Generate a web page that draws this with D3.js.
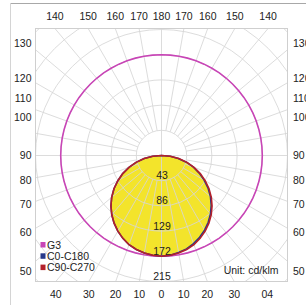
<!DOCTYPE html>
<html><head><meta charset="utf-8">
<script src="https://cdn.jsdelivr.net/npm/d3@7"></script>
<style>
body{margin:0;background:#fff}
svg{display:block}
text{font-family:"Liberation Sans",Arial,sans-serif;font-size:10.5px;fill:#222}
</style>
</head><body>
<svg id="c" width="306" height="305"></svg>
<script>
// ---- data ----
const angles = [0,5,10,15,20,25,30,35,40,45,50,55,60,65,70,75,80,85,90,95,100,105,110,115,120,125,130,135,140,145,150,155,160,165,170,175,180];
const g3   = [172,172,172,172,172,172,172,172,172,172,172,172,172,172,172,172,172,172,172,172,172,172,172,172,172,172,172,172,172,172,172,172,172,172,172,172,172];
const c0   = [172,171,168,165,160,154,147,139,130,120,109,97,84,71,58,44,29,15,0,0,0,0,0,0,0,0,0,0,0,0,0,0,0,0,0,0,0];
const c180 = [172,171,169,166,162,156,149,141,132,122,111,99,86,73,59,45,30,15,0,0,0,0,0,0,0,0,0,0,0,0,0,0,0,0,0,0,0];
const c90  = [172,171,169,166,162,156,149,141,132,122,111,99,86,73,59,45,30,15,0,0,0,0,0,0,0,0,0,0,0,0,0,0,0,0,0,0,0];
const c270 = [172,171,169,166,162,156,149,141,132,122,111,99,86,73,59,45,30,15,0,0,0,0,0,0,0,0,0,0,0,0,0,0,0,0,0,0,0];
const ringValues = [43,86,129,172,215];
const gridRings = [43,86,129,172,215,258,301];
const topLabels = ["140","150","160","170","180","170","160","150","140"];
const topDev = [-40,-30,-20,-10,0,10,20,30,40];
const bottomLabels = ["40","30","20","10","0","10","20","30","04"];
const bottomDev = [-40,-30,-20,-10,0,10,20,30,40];
const sideLabels = ["130","120","110","100","90","80","70","60","50"];
const seriesNames = ["G3","C0-C180","C90-C270"];
const seriesColors = ["#c845b6","#27388a","#b4202a"];
const unitText = "Unit: cd/klm";

// ---- layout ----
const cx = 161.5, cy = 155.5;
const box = {x0:35.5, y0:28.5, x1:287.5, y1:281.5};
const sideLabelY = [43,78,98,117,155,180,204,232,271];
const r = d3.scaleLinear().domain([0,215]).range([0,126]);
const rad = d => d*Math.PI/180;

const svg = d3.select("#c");

// outer frame
svg.append("line").attr("x1",10.5).attr("y1",3.5).attr("x2",306).attr("y2",3.5).attr("stroke","#a8a8a8");
svg.append("line").attr("x1",10.5).attr("y1",3.5).attr("x2",10.5).attr("y2",305).attr("stroke","#d4d4d4");

svg.append("clipPath").attr("id","clip").append("rect")
  .attr("x",box.x0).attr("y",box.y0).attr("width",box.x1-box.x0).attr("height",box.y1-box.y0);

const plot = svg.append("g").attr("clip-path","url(#clip)");
const g = plot.append("g").attr("transform",`translate(${cx},${cy})`);

function shape(rightVals, leftVals){
  const p=[];
  for(let i=angles.length-1;i>=0;i--) p.push([Math.PI - rad(angles[i]), r(rightVals[i])]);
  for(let i=1;i<angles.length-1;i++) p.push([Math.PI + rad(angles[i]), r(leftVals[i])]);
  return p;
}
const line = d3.lineRadial().angle(d=>d[0]).radius(d=>d[1]).curve(d3.curveLinearClosed);

// yellow fill
g.append("path").attr("d", line(shape(c90,c270))).attr("fill","#f3e42b").attr("stroke","none");

// grid
const grid = g.append("g").attr("stroke","#d6d6d6").attr("stroke-opacity",0.85).attr("fill","none");
grid.selectAll("circle").data(gridRings).join("circle").attr("r",d=>r(d));
const spokes = d3.range(0,360,10);
grid.selectAll("line").data(spokes).join("line")
  .attr("x1",d=> (d%90===0?0:r(43))*Math.sin(rad(d)))
  .attr("y1",d=> -(d%90===0?0:r(43))*Math.cos(rad(d)))
  .attr("x2",d=> 400*Math.sin(rad(d)))
  .attr("y2",d=> -400*Math.cos(rad(d)));

// curves
g.append("path").attr("d", line(shape(g3,g3))).attr("fill","none").attr("stroke",seriesColors[0]).attr("stroke-width",1.6);
g.append("path").attr("d", line(shape(c0,c180))).attr("fill","none").attr("stroke",seriesColors[1]).attr("stroke-width",1.6);
g.append("path").attr("d", line(shape(c90,c270))).attr("fill","none").attr("stroke",seriesColors[2]).attr("stroke-width",1.6);

// inner box
svg.append("rect").attr("x",box.x0).attr("y",box.y0).attr("width",box.x1-box.x0).attr("height",box.y1-box.y0)
  .attr("fill","none").attr("stroke","#cfcfcf");

// ring value labels
svg.selectAll("text.ring").data(ringValues).join("text").attr("class","ring")
  .attr("x",cx+0.5).attr("y",d=>cy + r(d) - 1.5).attr("text-anchor","middle").text(d=>d);

// top labels
svg.selectAll("text.top").data(topLabels).join("text").attr("class","top")
  .attr("x",(d,i)=>cx + (cy-box.y0)*Math.tan(rad(topDev[i]))).attr("y",20).attr("text-anchor","middle").text(d=>d);
// bottom labels
svg.selectAll("text.bot").data(bottomLabels).join("text").attr("class","bot")
  .attr("x",(d,i)=>cx + (box.y1-cy)*Math.tan(rad(bottomDev[i]))).attr("y",298).attr("text-anchor","middle").text(d=>d);
// side labels
svg.selectAll("text.left").data(sideLabels).join("text").attr("class","left")
  .attr("x",31.5).attr("y",(d,i)=>sideLabelY[i]).attr("dy","0.36em").attr("text-anchor","end").text(d=>d);
svg.selectAll("text.right").data(sideLabels).join("text").attr("class","right")
  .attr("x",293).attr("y",(d,i)=>sideLabelY[i]).attr("dy","0.36em").attr("text-anchor","start").text(d=>d);

// legend
const lg = svg.append("g");
seriesNames.forEach((n,i)=>{
  const y = 245 + i*11.3;
  lg.append("rect").attr("x",40.5).attr("y",y-3).attr("width",5).attr("height",5.5).attr("fill",seriesColors[i]);
  lg.append("text").attr("x",47).attr("y",y).attr("dy","0.36em").text(n);
});
svg.append("text").attr("x",278.5).attr("y",270).attr("dy","0.36em").attr("text-anchor","end").text(unitText);
</script>
</body></html>
